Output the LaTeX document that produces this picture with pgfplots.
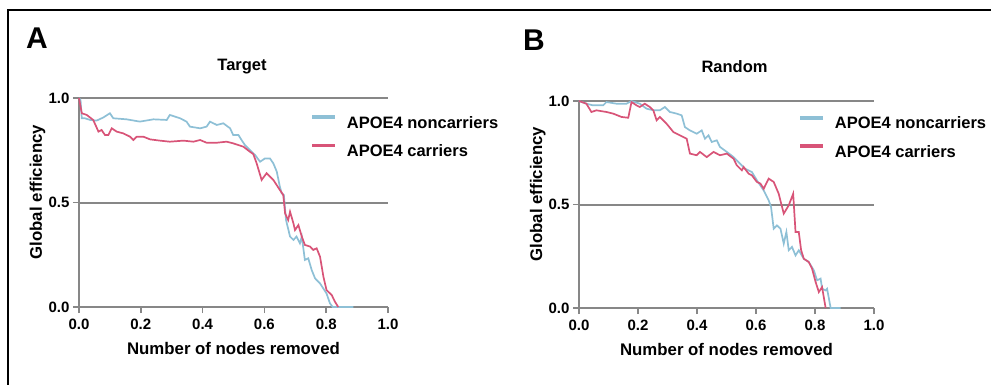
\documentclass[border=0pt]{standalone}
\usepackage{pgfplots}
\pgfplotsset{compat=1.18}
\usepackage{fontspec}
\setmainfont{Liberation Sans}
\definecolor{cblue}{RGB}{142,192,214}
\definecolor{cred}{RGB}{216,84,120}
\definecolor{axgray}{RGB}{135,135,135}

\pgfplotsset{
 myaxis/.style={
  scale only axis, xmin=0, xmax=1, ymin=0, ymax=1, clip=false,
  axis x line*=bottom, axis y line*=left,
  axis line style={axgray, line width=2pt, -},
  every tick/.style={axgray, line width=1.6pt},
  major tick length=6pt, tick align=outside,
  xtick={0,0.2,0.4,0.6,0.8,1}, ytick={0,0.5,1},
  xticklabels={0.0,0.2,0.4,0.6,0.8,1.0},
  yticklabels={0.0,0.5,1.0},
  ymajorgrids, grid style={axgray, line width=2pt},
  ticklabel style={font=\fontsize{15}{17}\selectfont\bfseries},
  xticklabel style={yshift=-2pt},
  label style={font=\fontsize{16.8}{19}\selectfont\bfseries},
  xlabel={Number of nodes removed},
  ylabel={Global efficiency},
  xlabel style={at={(axis description cs:0.5,0)}, anchor=base, yshift=-47pt},
  legend cell align=left,
  legend image code/.code={\fill[#1] (0pt,4.9pt) rectangle (21pt,6.8pt);},
  legend style={draw=none, fill=none, inner sep=0pt,
    font=\fontsize{16.5}{19}\selectfont\bfseries,
    row sep=14pt,
    nodes={inner sep=0pt},
    /tikz/every odd column/.append style={column sep=12pt}},
  every axis plot/.append style={line width=1.7pt, no markers},
 }
}

\begin{document}
\begin{tikzpicture}
\useasboundingbox (0pt,0pt) rectangle (991pt,384pt);
\draw[line width=2.4pt] (8pt,-2pt) -- (8pt,374pt) -- (993pt,374pt);
\node[anchor=base west, font=\fontsize{30}{34}\selectfont\bfseries, inner sep=0pt] at (26pt,335pt) {A};
\node[anchor=base west, font=\fontsize{30}{34}\selectfont\bfseries, inner sep=0pt] at (523pt,334pt) {B};
\node[anchor=base, font=\fontsize{16.5}{19}\selectfont\bfseries, inner sep=0pt] at (242pt,314pt) {Target};
\node[anchor=base, font=\fontsize{16.5}{19}\selectfont\bfseries, inner sep=0pt] at (734.5pt,312pt) {Random};

\begin{axis}[myaxis, at={(79pt,77pt)}, anchor=south west, width=309pt, height=209pt,
  ylabel style={at={(axis description cs:-0.12,0.55)}, anchor=base},
  legend style={at={(axis description cs:0.754,0.918)}, anchor=north west}]
\addlegendimage{cblue}
\addlegendentry{APOE4 noncarriers}
\addlegendimage{cred}
\addlegendentry{APOE4 carriers}
\addplot[cblue, forget plot] coordinates {
(0,1.0) (0.005,0.99) (0.009,0.903) (0.019,0.903) (0.036,0.895) (0.057,0.892)
(0.079,0.907) (0.100,0.927) (0.111,0.903) (0.154,0.898) (0.197,0.887) (0.241,0.898)
(0.284,0.895) (0.294,0.919) (0.327,0.903) (0.348,0.887) (0.359,0.863) (0.392,0.855)
(0.413,0.863) (0.424,0.887) (0.446,0.871) (0.467,0.879) (0.489,0.855) (0.499,0.823)
(0.516,0.823) (0.526,0.799) (0.537,0.775) (0.553,0.751) (0.570,0.727) (0.586,0.695)
(0.602,0.711) (0.618,0.711) (0.629,0.687) (0.640,0.648) (0.650,0.576) (0.656,0.544)
(0.663,0.536) (0.670,0.416) (0.683,0.337) (0.694,0.321) (0.704,0.337) (0.715,0.305)
(0.721,0.337) (0.731,0.225) (0.742,0.233) (0.753,0.177) (0.764,0.137) (0.780,0.113)
(0.801,0.065) (0.812,0.018) (0.821,0.0) (0.888,0.0)
};
\addplot[cred, forget plot] coordinates {
(0,1.0) (0.009,0.927) (0.025,0.919) (0.046,0.895) (0.063,0.839) (0.073,0.847)
(0.084,0.823) (0.095,0.823) (0.106,0.855) (0.122,0.839) (0.143,0.831) (0.165,0.815)
(0.176,0.799) (0.187,0.815) (0.208,0.815) (0.230,0.802) (0.262,0.796) (0.294,0.791)
(0.338,0.796) (0.370,0.791) (0.392,0.799) (0.413,0.786) (0.446,0.786) (0.478,0.791)
(0.499,0.783) (0.532,0.767) (0.553,0.743) (0.564,0.732) (0.575,0.687) (0.591,0.608)
(0.607,0.640) (0.629,0.608) (0.650,0.560) (0.661,0.536) (0.667,0.448) (0.677,0.416)
(0.683,0.456) (0.694,0.400) (0.699,0.368) (0.710,0.392) (0.721,0.337) (0.731,0.297)
(0.748,0.289) (0.758,0.273) (0.769,0.281) (0.780,0.241) (0.791,0.145) (0.801,0.081)
(0.818,0.057) (0.828,0.026) (0.839,0.0)
};
\end{axis}

\begin{axis}[myaxis, at={(579pt,76pt)}, anchor=south west, width=295pt, height=207pt,
  ylabel style={at={(axis description cs:-0.125,0.55)}, anchor=base},
  legend style={at={(axis description cs:0.749,0.928)}, anchor=north west}]
\addlegendimage{cblue}
\addlegendentry{APOE4 noncarriers}
\addlegendimage{cred}
\addlegendentry{APOE4 carriers}
\addplot[cblue, forget plot] coordinates {
(0,1.0) (0.025,0.987) (0.048,0.979) (0.082,0.979) (0.093,0.995) (0.127,0.987)
(0.161,0.987) (0.178,1.0) (0.206,0.987) (0.229,0.963) (0.252,0.955) (0.274,0.955)
(0.291,0.971) (0.308,0.947) (0.331,0.939) (0.348,0.931) (0.359,0.874) (0.376,0.858)
(0.399,0.842) (0.416,0.858) (0.427,0.818) (0.439,0.834) (0.450,0.802) (0.467,0.810)
(0.478,0.778) (0.501,0.754) (0.524,0.729) (0.546,0.697) (0.563,0.673) (0.586,0.657)
(0.603,0.617) (0.626,0.568) (0.643,0.520) (0.651,0.488) (0.660,0.383) (0.671,0.399)
(0.683,0.383) (0.694,0.311) (0.703,0.367) (0.711,0.279) (0.722,0.295) (0.734,0.254)
(0.745,0.279) (0.762,0.238) (0.779,0.222) (0.796,0.182) (0.807,0.134) (0.819,0.142)
(0.824,0.093) (0.836,0.085) (0.841,0.093) (0.853,0.0) (0.887,0.0)
};
\addplot[cred, forget plot] coordinates {
(0,1.0) (0.025,0.987) (0.042,0.947) (0.059,0.955) (0.093,0.947) (0.116,0.939)
(0.144,0.923) (0.167,0.919) (0.178,0.995) (0.195,0.979) (0.206,0.971) (0.223,0.987)
(0.240,0.971) (0.252,0.955) (0.263,0.907) (0.274,0.923) (0.297,0.890) (0.320,0.850)
(0.342,0.834) (0.365,0.818) (0.376,0.746) (0.399,0.738) (0.410,0.754) (0.433,0.729)
(0.456,0.754) (0.478,0.738) (0.501,0.746) (0.524,0.721) (0.535,0.689) (0.552,0.665)
(0.558,0.681) (0.575,0.649) (0.586,0.641) (0.603,0.609) (0.615,0.601) (0.626,0.576)
(0.643,0.625) (0.660,0.609) (0.677,0.552) (0.694,0.456) (0.711,0.496) (0.726,0.552)
(0.734,0.367) (0.745,0.367) (0.753,0.279) (0.762,0.238) (0.779,0.222) (0.790,0.190)
(0.802,0.126) (0.813,0.077) (0.824,0.101) (0.836,0.0)
};
\end{axis}
\end{tikzpicture}
\end{document}
